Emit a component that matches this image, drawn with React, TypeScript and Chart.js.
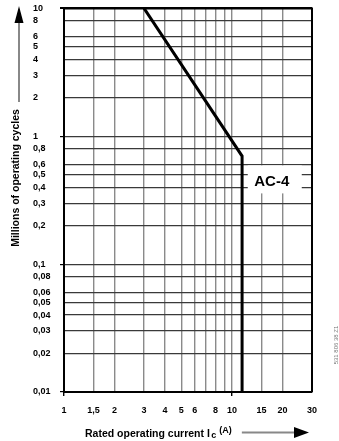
import React, { useEffect, useRef } from 'react';
import { Chart, registerables } from 'chart.js';

Chart.register(...registerables);

// ---- data ----
const xTicks = [1, 1.5, 2, 3, 4, 5, 6, 7, 8, 9, 10, 15, 20, 30];
const xLabels = ['1', '1,5', '2', '3', '4', '5', '6', '', '8', '', '10', '15', '20', '30'];
const yTicks = [0.01, 0.02, 0.03, 0.04, 0.05, 0.06, 0.08, 0.1, 0.2, 0.3, 0.4, 0.5, 0.6, 0.8, 1, 2, 3, 4, 5, 6, 8, 10];
const yLabels = ['0,01', '0,02', '0,03', '0,04', '0,05', '0,06', '0,08', '0,1', '0,2', '0,3', '0,4', '0,5', '0,6', '0,8', '1', '2', '3', '4', '5', '6', '8', '10'];
const xMajor = [1, 10];
const yMajor = [0.01, 0.1, 1, 10];

const curveCurrent = [3, 11.5, 11.5];
const curveCycles = [10, 0.7, 0.01];
const curveName = 'AC-4';
const curveLabelCurrent = 18;
const curveLabelCycles = 0.46;

const yTitle = 'Millions of operating cycles';
const xTitle = 'Rated operating current I';
const xTitleSub = 'c';
const xTitleUnit = '(A)';
const figureCode = '531 806 38 Z1';

const FONT = '"Liberation Sans", Arial, Helvetica, sans-serif';

const decor = {
  id: 'decor',
  beforeDatasetsDraw(chart: any) {
    const ctx = chart.ctx;
    const xs = chart.scales.x;
    const ys = chart.scales.y;
    const cx = xs.getPixelForValue(curveLabelCurrent);
    const cy = ys.getPixelForValue(curveLabelCycles);
    ctx.save();
    ctx.fillStyle = '#fff';
    ctx.fillRect(cx - 27, cy - 14, 54, 28);
    ctx.fillStyle = '#000';
    ctx.font = `bold 15px ${FONT}`;
    ctx.textAlign = 'center';
    ctx.textBaseline = 'middle';
    ctx.fillText(curveName, cx - 3, cy + 2.5);
    ctx.restore();
  },
  afterDraw(chart: any) {
    const ctx = chart.ctx;
    const area = chart.chartArea;
    ctx.save();
    // top & right frame
    ctx.strokeStyle = '#000';
    ctx.lineWidth = 2;
    ctx.beginPath();
    ctx.moveTo(area.left, area.top);
    ctx.lineTo(area.right, area.top);
    ctx.lineTo(area.right, area.bottom);
    ctx.stroke();

    // y title
    ctx.fillStyle = '#000';
    ctx.font = `bold 10.5px ${FONT}`;
    ctx.textAlign = 'center';
    ctx.textBaseline = 'middle';
    ctx.save();
    ctx.translate(16.5, 178);
    ctx.rotate(-Math.PI / 2);
    ctx.fillText(yTitle, 0, 0);
    ctx.restore();
    // y arrow
    ctx.strokeStyle = '#888';
    ctx.lineWidth = 2;
    ctx.beginPath();
    ctx.moveTo(19, 102);
    ctx.lineTo(19, 20);
    ctx.stroke();
    ctx.fillStyle = '#000';
    ctx.beginPath();
    ctx.moveTo(14.5, 23);
    ctx.lineTo(23.5, 23);
    ctx.lineTo(19, 6);
    ctx.closePath();
    ctx.fill();

    // x title
    ctx.textAlign = 'left';
    ctx.font = `bold 10.5px ${FONT}`;
    let x = 85;
    const y = 434;
    ctx.fillText(xTitle, x, y);
    x += ctx.measureText(xTitle).width + 1.5;
    ctx.font = `bold 9px ${FONT}`;
    ctx.fillText(xTitleSub, x, y + 2);
    x += ctx.measureText(xTitleSub).width + 3;
    ctx.font = `bold 9px ${FONT}`;
    ctx.fillText(xTitleUnit, x, y - 3);
    x += ctx.measureText(xTitleUnit).width + 10;
    ctx.strokeStyle = '#888';
    ctx.lineWidth = 2;
    ctx.beginPath();
    ctx.moveTo(x, y - 1.5);
    ctx.lineTo(296, y - 1.5);
    ctx.stroke();
    ctx.fillStyle = '#000';
    ctx.beginPath();
    ctx.moveTo(294, y - 7);
    ctx.lineTo(294, y + 4);
    ctx.lineTo(309, y - 1.5);
    ctx.closePath();
    ctx.fill();

    // figure code
    ctx.fillStyle = '#777';
    ctx.font = `6px ${FONT}`;
    ctx.textAlign = 'center';
    ctx.save();
    ctx.translate(336, 345);
    ctx.rotate(-Math.PI / 2);
    ctx.fillText(figureCode, 0, 0);
    ctx.restore();
    ctx.restore();
  },
};

export default function App() {
  const ref = useRef<HTMLCanvasElement | null>(null);
  useEffect(() => {
    const canvas = ref.current;
    if (!canvas) return;
    Chart.defaults.font.family = FONT;
    const chart = new Chart(canvas, {
      type: 'line',
      data: {
        datasets: [
          {
            label: curveName,
            data: curveCurrent.map((c, i) => ({ x: c, y: curveCycles[i] })),
            borderColor: '#000',
            borderWidth: 3,
            pointRadius: 0,
            tension: 0,
            fill: false,
            borderJoinStyle: 'miter',
          } as any,
        ],
      },
      options: {
        animation: false,
        responsive: false,
        devicePixelRatio: 1,
        layout: { padding: { left: 33, right: 27, top: 7, bottom: 0 } },
        plugins: { legend: { display: false }, tooltip: { enabled: false } },
        scales: {
          x: {
            type: 'logarithmic',
            min: 1,
            max: 30,
            afterBuildTicks: (s: any) => {
              s.ticks = xTicks.map((v) => ({ value: v }));
            },
            afterFit: (s: any) => {
              s.height = 49;
            },
            ticks: {
              autoSkip: false,
              maxRotation: 0,
              minRotation: 0,
              padding: 9,
              color: '#000',
              font: { size: 9, weight: 'bold' },
              callback: (v: any) => {
                const i = xTicks.indexOf(Number(v));
                return i >= 0 ? xLabels[i] : '';
              },
            },
            grid: {
              color: (c: any) => (c.tick && c.tick.value === 30 ? '#000' : '#8a8a8a'),
              lineWidth: (c: any) => (c.tick && c.tick.value === 30 ? 2 : 1.4),
              tickLength: 4,
              tickColor: (c: any) => (c.tick && xMajor.includes(c.tick.value) ? '#000' : 'rgba(0,0,0,0)'),
            },
            border: { color: '#000', width: 2 },
          },
          y: {
            type: 'logarithmic',
            min: 0.01,
            max: 10,
            afterBuildTicks: (s: any) => {
              s.ticks = yTicks.map((v) => ({ value: v }));
            },
            afterFit: (s: any) => {
              s.width = 31;
            },
            ticks: {
              autoSkip: false,
              crossAlign: 'far',
              color: '#000',
              font: { size: 9, weight: 'bold' },
              callback: (v: any) => {
                const i = yTicks.indexOf(Number(v));
                return i >= 0 ? yLabels[i] : '';
              },
            },
            grid: {
              color: (c: any) => (c.tick && c.tick.value === 10 ? '#000' : '#3a3a3a'),
              lineWidth: (c: any) => (c.tick && c.tick.value === 10 ? 2 : 1.2),
              tickLength: 4,
              tickColor: (c: any) => (c.tick && yMajor.includes(c.tick.value) ? '#000' : 'rgba(0,0,0,0)'),
            },
            border: { color: '#000', width: 2 },
          },
        },
      } as any,
      plugins: [decor],
    });
    return () => chart.destroy();
  }, []);
  return (
    <div style={{ position: 'fixed', left: 0, top: 0, width: 339, height: 441, background: '#fff' }}>
      <canvas ref={ref} width={339} height={441} style={{ width: 339, height: 441, display: 'block' }} />
    </div>
  );
}
